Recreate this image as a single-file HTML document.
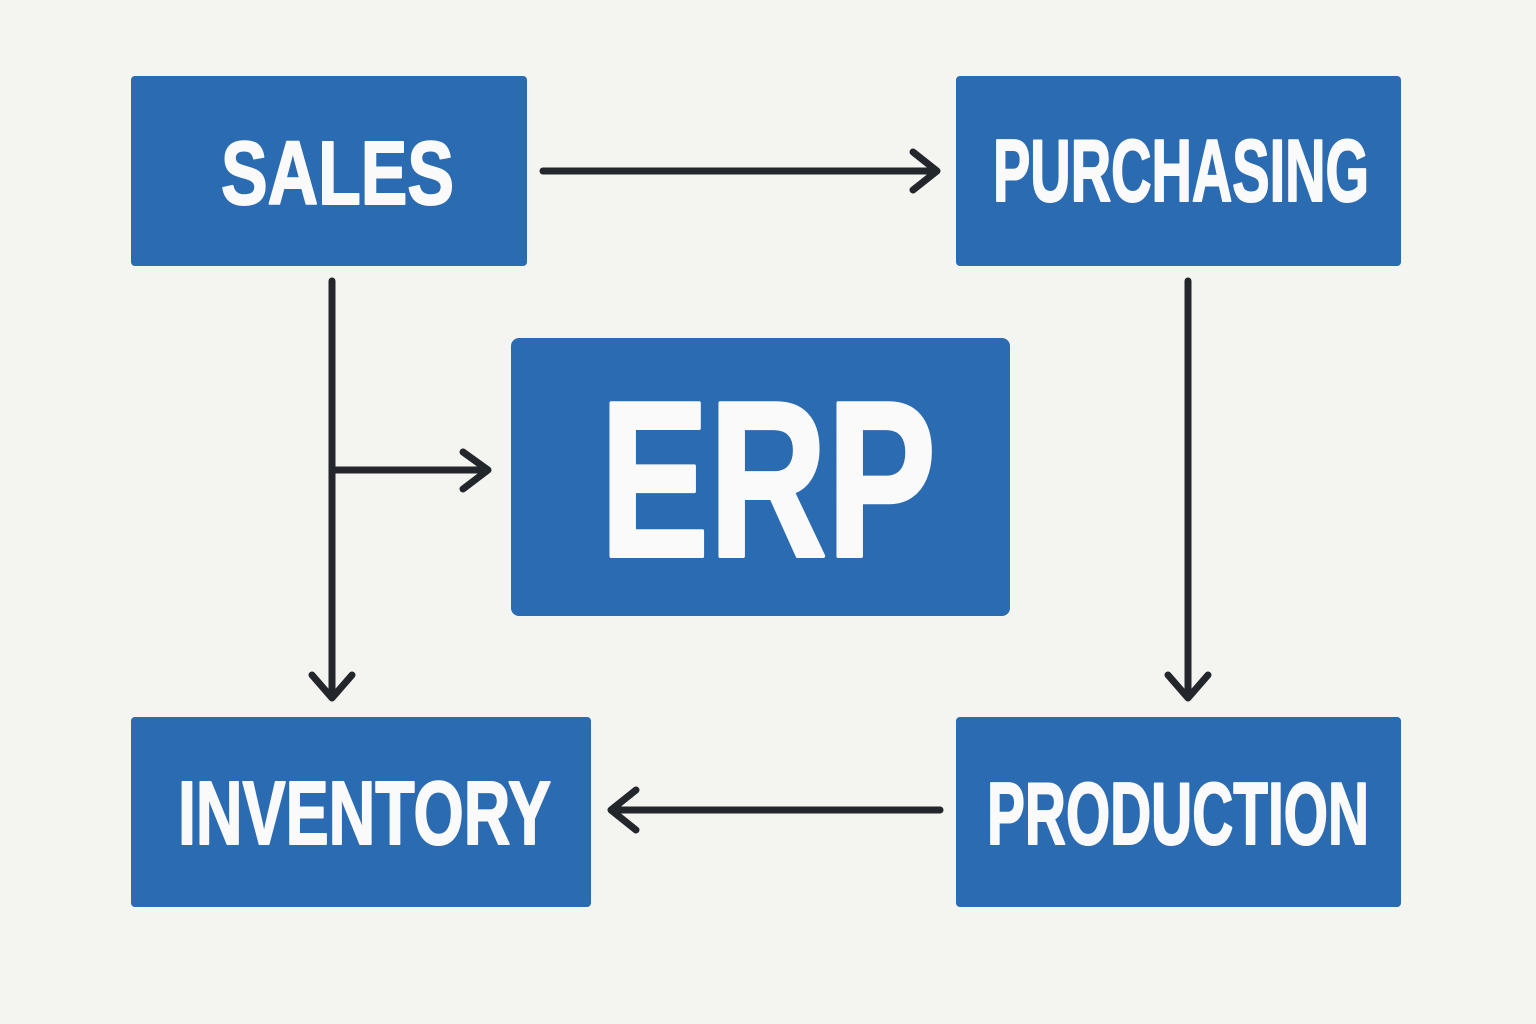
<!DOCTYPE html>
<html><head><meta charset="utf-8"><style>
html,body{margin:0;padding:0;background:#f4f4f1;}
svg{display:block}
text{font-family:"Liberation Sans Narrow","Liberation Sans",sans-serif;font-weight:bold;fill:#fafafa;stroke:#fafafa;stroke-width:2;stroke-linejoin:round;}
</style></head><body>
<svg width="1536" height="1024" viewBox="0 0 1536 1024" xmlns="http://www.w3.org/2000/svg">
<rect width="1536" height="1024" fill="#f4f4f1"/>
<g fill="#2a6bb2">
<rect x="131" y="76" width="396" height="190" rx="4"/>
<rect x="956" y="76" width="445" height="190" rx="4"/>
<rect x="511" y="338" width="499" height="278" rx="8"/>
<rect x="131" y="717" width="460" height="190" rx="4"/>
<rect x="956" y="717" width="445" height="190" rx="4"/>
</g>
<text x="221" y="204" font-size="90" textLength="233" lengthAdjust="spacingAndGlyphs">SALES</text>
<text x="993" y="201" font-size="88" textLength="376" lengthAdjust="spacingAndGlyphs">PURCHASING</text>
<text x="600" y="556" font-size="222" textLength="336" lengthAdjust="spacingAndGlyphs" style="stroke-width:4">ERP</text>
<text x="178" y="844" font-size="90" textLength="373" lengthAdjust="spacingAndGlyphs">INVENTORY</text>
<text x="987" y="844" font-size="88" textLength="382" lengthAdjust="spacingAndGlyphs">PRODUCTION</text>
<g stroke="#23262b" stroke-width="7" stroke-linecap="round" stroke-linejoin="round" fill="none">
<line x1="543" y1="171" x2="936" y2="171"/>
<polyline points="913,152 937,171 913,190"/>
<line x1="332" y1="281" x2="332" y2="697"/>
<polyline points="312,675 332,698 352,675"/>
<line x1="332" y1="470" x2="487" y2="470"/>
<polyline points="463,452 488,470 463,489"/>
<line x1="1188" y1="281" x2="1188" y2="697"/>
<polyline points="1168,675 1188,698 1208,675"/>
<line x1="940" y1="810" x2="612" y2="810"/>
<polyline points="636,790 611,810 636,830"/>
</g>
</svg>
</body></html>
